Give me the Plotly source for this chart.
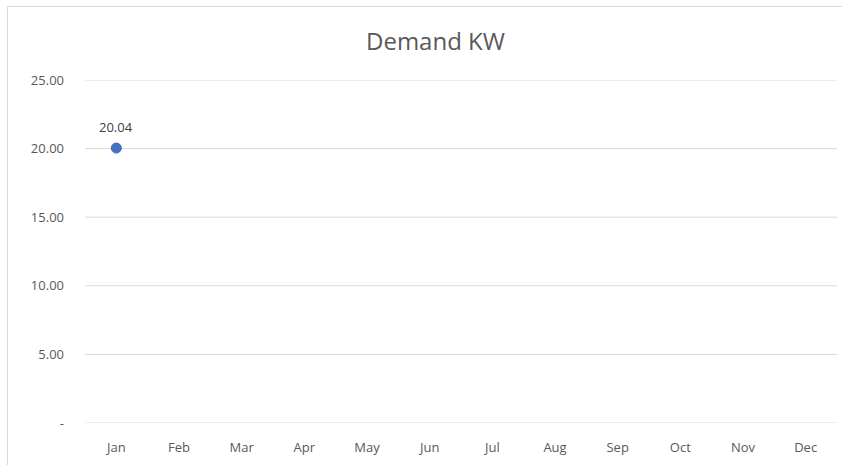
import plotly.graph_objects as go

months = ["Jan", "Feb", "Mar", "Apr", "May", "Jun", "Jul", "Aug", "Sep", "Oct", "Nov", "Dec"]
demand_kw = [20.04, None, None, None, None, None, None, None, None, None, None, None]
y_tickvals = [0, 5, 10, 15, 20, 25]
y_ticktext = ["-", "5.00", "10.00", "15.00", "20.00", "25.00"]
title_text = "Demand KW"

FONT = "Open Sans, Lato, sans-serif"
W, H = 842, 465
L, R, T, B = 85, 5, 80, 42
pw, ph = W - L - R, H - T - B

fig = go.Figure(go.Scatter(
    x=months, y=demand_kw, mode="markers",
    marker=dict(color="#4472C4", size=10, line=dict(color="#3f68b3", width=1)),
    cliponaxis=False, showlegend=False,
))

def px_x(x):
    return (x - L) / pw

def px_y(y):
    return (H - B - y) / ph

grid_shapes = [dict(type="line", xref="paper", yref="y", x0=0, x1=1, y0=v, y1=v,
                    line=dict(color="#d9d9d9", width=1), layer="below")
               for v in y_tickvals]

label_annots = [dict(x=m, y=v, xref="x", yref="y", text=f"{v:.2f}", showarrow=False,
                     yshift=21, font=dict(family=FONT, size=13, color="#404040"))
                for m, v in zip(months, demand_kw) if v is not None]

fig.update_layout(
    width=W, height=H,
    margin=dict(l=L, r=R, t=T, b=B),
    paper_bgcolor="white", plot_bgcolor="white",
    font=dict(family=FONT, size=13, color="#595959"),
    xaxis=dict(type="category", categoryorder="array", categoryarray=months,
               range=[-0.5, 11.5], showgrid=False, zeroline=False, showline=False,
               ticks="", ticklabelstandoff=15, tickfont=dict(size=13, color="#595959")),
    yaxis=dict(range=[0, 25], tickvals=y_tickvals, ticktext=y_ticktext,
               showgrid=False, zeroline=False,
               showline=False, ticks="", ticklabelstandoff=20,
               tickfont=dict(size=13, color="#595959")),
    shapes=[dict(type="rect", xref="paper", yref="paper",
                 x0=px_x(7.5), x1=px_x(900), y0=px_y(500), y1=px_y(6.5),
                 line=dict(color="#d9d9d9", width=1), fillcolor="rgba(0,0,0,0)", layer="below")]
           + grid_shapes,
    annotations=[dict(text=title_text, xref="paper", yref="paper",
                      x=px_x(435), y=px_y(40), xanchor="center", yanchor="middle",
                      showarrow=False, font=dict(size=24, color="#595959", family=FONT))]
                + label_annots,
)

fig.write_html("out.html", config={"displayModeBar": False},
               post_script="document.body.style.margin='0';document.body.style.padding='0';")
